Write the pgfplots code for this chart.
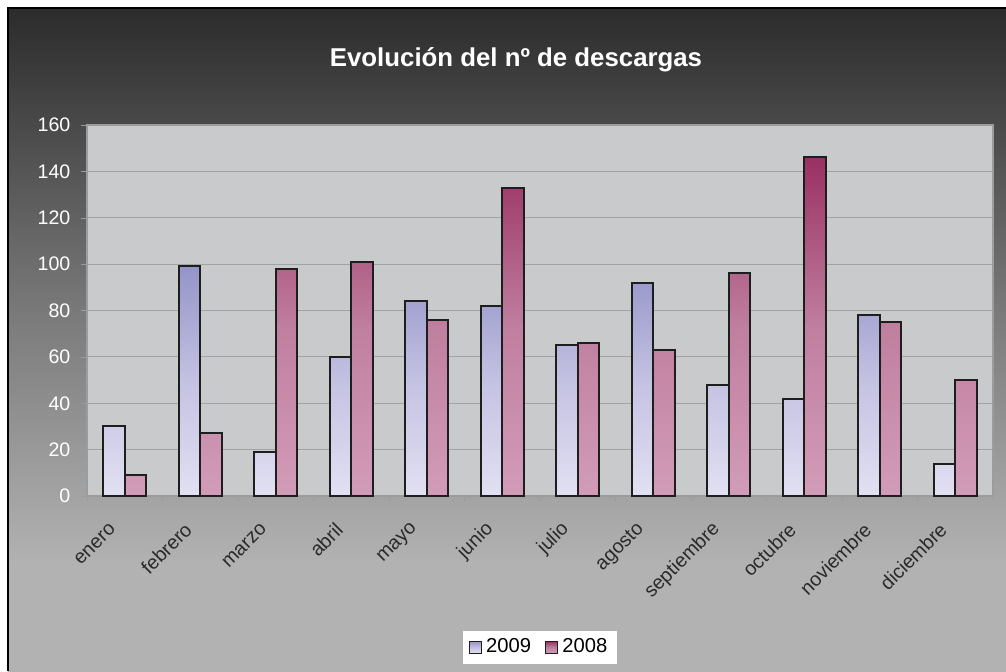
\documentclass[border=0pt]{standalone}
\usepackage{pgfplots}
\pgfplotsset{compat=1.18}
\usepackage{fontspec}
\setmainfont{Liberation Sans}

\definecolor{plotbg}{HTML}{C9CACC}
\definecolor{gridc}{HTML}{A2A3A5}
\definecolor{axisc}{HTML}{9C9C9C}
\definecolor{ticktext}{HTML}{2A2A2A}
\definecolor{blueTop}{HTML}{9494C8}
\definecolor{blueMid}{HTML}{C4C2E2}
\definecolor{blueBot}{HTML}{E2E0F2}
\definecolor{redTop}{HTML}{9A3062}
\definecolor{redMid}{HTML}{BF7F9E}
\definecolor{redBot}{HTML}{D29CB8}
\definecolor{barEdge}{HTML}{1E1E1E}

% chart background, dark at the top, light at the bottom
\pgfdeclareverticalshading{chartbg}{100bp}{rgb(0bp)=(0.70,0.70,0.70); rgb(33bp)=(0.70,0.70,0.70); rgb(52bp)=(0.478,0.478,0.478); rgb(75bp)=(0.17,0.17,0.17); rgb(100bp)=(0.17,0.17,0.17)}

\newcommand{\lblfont}{\fontsize{9.8}{11.5}\selectfont}

\pgfplotstableread{
x  a   b
0  30  9
1  99  27
2  19  98
3  60  101
4  84  76
5  82  133
6  65  66
7  92  63
8  48  96
9  42  146
10 78  75
11 14  50
}\descargas

\begin{document}
\begin{tikzpicture}
\useasboundingbox (0,0) rectangle (503pt,335.5pt);
\shade[shading=chartbg] (4pt,0) rectangle (503pt,331.5pt);
\draw[black, line width=0.8pt] (4pt,0) -- (4pt,331.5pt) -- (503pt,331.5pt);
\node[text=white, font=\fontsize{12.9}{15}\selectfont\bfseries] at (258pt,305.5pt) {Evolución del nº de descargas};

\begin{axis}[
  at={(43.5pt,87.5pt)}, anchor=south west,
  scale only axis,
  width=453pt, height=185.5pt,
  ybar=0pt, bar width=10.75pt,
  xmin=-0.5, xmax=11.5,
  ymin=0, ymax=160,
  ytick={0,20,...,160},
  xtick={0,...,11},
  xticklabels={enero,febrero,marzo,abril,mayo,junio,julio,agosto,septiembre,octubre,noviembre,diciembre},
  minor xtick={-0.5,0.5,...,11.5},
  major x tick style={draw=none},
  minor x tick style={draw=axisc},
  y tick style={draw=axisc},
  tick pos=left,
  tick align=outside,
  major tick length=2.8pt, minor tick length=2.5pt,
  ymajorgrids, grid style={gridc, line width=0.6pt},
  axis background/.style={fill=plotbg},
  axis line style={draw=axisc, line width=0.7pt},
  /pgf/number format/assume math mode=true,
  y tick label style={font=\lblfont, text=white, xshift=-2pt},
  x tick label style={font=\lblfont, text=ticktext, xshift=-3.5pt, yshift=-10pt, rotate=45, anchor=east},
  legend style={at={(0.5,-0.408)}, anchor=center, legend columns=2, fill=white, draw=none,
    font=\fontsize{10.1}{12}\selectfont, inner xsep=3pt,
    /tikz/every even column/.append style={column sep=5pt}},
  legend image code/.code={\draw[#1, draw=barEdge, line width=0.7pt] (0pt,-3pt) rectangle (6pt,3pt);},
]
% 2009
\addplot[draw=none, bar shift=-5.375pt, top color=blueTop, bottom color=blueBot, middle color=blueMid]
  table[x=x, y=a] {\descargas};
\addlegendentry{2009}
\addplot[forget plot, draw=barEdge, fill=none, line width=1pt, bar shift=-5.375pt]
  table[x=x, y=a] {\descargas};
% 2008
\addplot[draw=none, bar shift=5.375pt, top color=redTop, bottom color=redBot, middle color=redMid]
  table[x=x, y=b] {\descargas};
\addlegendentry{2008}
\addplot[forget plot, draw=barEdge, fill=none, line width=1pt, bar shift=5.375pt]
  table[x=x, y=b] {\descargas};
\end{axis}
\end{tikzpicture}
\end{document}
